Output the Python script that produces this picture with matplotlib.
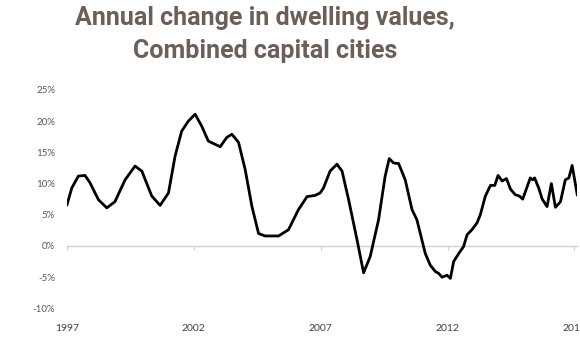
import numpy as np
import matplotlib.pyplot as plt
from matplotlib.ticker import FuncFormatter

# annual change in dwelling values
years = [1997.0, 1997.19, 1997.45, 1997.71, 1997.91, 1998.24, 1998.57, 1998.89,
         1999.29, 1999.68, 1999.95, 2000.34, 2000.67, 2001.0, 2001.26, 2001.52,
         2001.78, 2002.05, 2002.31, 2002.57, 2003.04, 2003.3, 2003.5, 2003.76,
         2004.02, 2004.29, 2004.55, 2004.81, 2005.34, 2005.73, 2006.12, 2006.46,
         2006.78, 2006.98, 2007.11, 2007.37, 2007.64, 2007.84, 2008.1, 2008.43,
         2008.69, 2008.95, 2009.28, 2009.54, 2009.7, 2009.87, 2010.07, 2010.33,
         2010.6, 2010.79, 2011.12, 2011.32, 2011.52, 2011.65, 2011.78, 2011.98,
         2012.11, 2012.24, 2012.44, 2012.63, 2012.77, 2012.96, 2013.16, 2013.29,
         2013.49, 2013.69, 2013.86, 2013.99, 2014.15, 2014.32, 2014.48, 2014.67,
         2014.83, 2014.96, 2015.26, 2015.35, 2015.43, 2015.59, 2015.73, 2015.92,
         2016.09, 2016.25, 2016.45, 2016.64, 2016.78, 2016.91, 2017.11]
change = [6.6, 9.3, 11.2, 11.3, 10.1, 7.4, 6.1, 7.1,
          10.6, 12.8, 12.0, 8.0, 6.5, 8.5, 14.4, 18.4,
          20.0, 21.1, 19.2, 16.8, 15.9, 17.4, 17.9, 16.6,
          12.3, 6.3, 2.0, 1.6, 1.6, 2.6, 5.8, 7.9,
          8.1, 8.5, 9.3, 12.0, 13.1, 12.0, 7.4, 1.0,
          -4.3, -1.7, 4.2, 11.2, 14.0, 13.3, 13.2, 10.6,
          5.8, 4.2, -1.2, -3.1, -4.1, -4.4, -5.0, -4.7,
          -5.2, -2.5, -1.2, -0.1, 1.8, 2.6, 3.7, 5.0,
          8.0, 9.7, 9.7, 11.3, 10.4, 10.8, 9.1, 8.2,
          8.0, 7.5, 10.9, 10.6, 10.9, 9.3, 7.5, 6.3,
          10.0, 6.2, 7.1, 10.6, 10.9, 12.9, 8.2]
xticks = [1997, 2002, 2007, 2012, 2017]
yticks = [-10, -5, 0, 5, 10, 15, 20, 25]

fig = plt.figure(figsize=(5.8, 3.52), dpi=100)
ax = fig.add_axes([0.1155, 0.124, 0.8793, 0.6205])

ax.plot(years, change, color='black', linewidth=2, solid_joinstyle='round')

ax.set_xlim(1997, 2017.1)
ax.set_ylim(-10, 25)
for s in ax.spines.values():
    s.set_visible(False)

ax.set_yticks(yticks)
ax.yaxis.set_major_formatter(FuncFormatter(lambda v, p: '%d%%' % v))
ax.set_xticks(xticks)
ax.set_xticklabels([str(y) for y in xticks])
ax.tick_params(axis='y', length=0, pad=8.5, labelsize=7, labelcolor='#595959')
ax.tick_params(axis='x', length=0, pad=11, labelsize=7.5, labelcolor='#404040')
for lab in ax.get_xticklabels() + ax.get_yticklabels():
    lab.set_family(['Lato', 'DejaVu Sans'])

# category axis crossing at zero
zero = ax.secondary_xaxis(10 / 35)
zero.set_xticks(xticks)
zero.tick_params(axis='x', direction='out', length=3, color='#d0d0d0', labelbottom=False, labeltop=False)
zero.spines['bottom'].set_color('#d0d0d0')
zero.spines['bottom'].set_linewidth(1)
zero.xaxis.set_ticks_position('bottom')
zero.set_xticklabels([])

title_kw = dict(ha='center', va='baseline', fontsize=18, fontweight='bold', color='#6b5f58',
                family=['Roboto', 'DejaVu Sans'])
fig.text(265 / 580, 0.93, 'Annual change in dwelling values,', **title_kw)
fig.text(265 / 580, 0.836, 'Combined capital cities', **title_kw)

fig.savefig('out.png', dpi=100)
